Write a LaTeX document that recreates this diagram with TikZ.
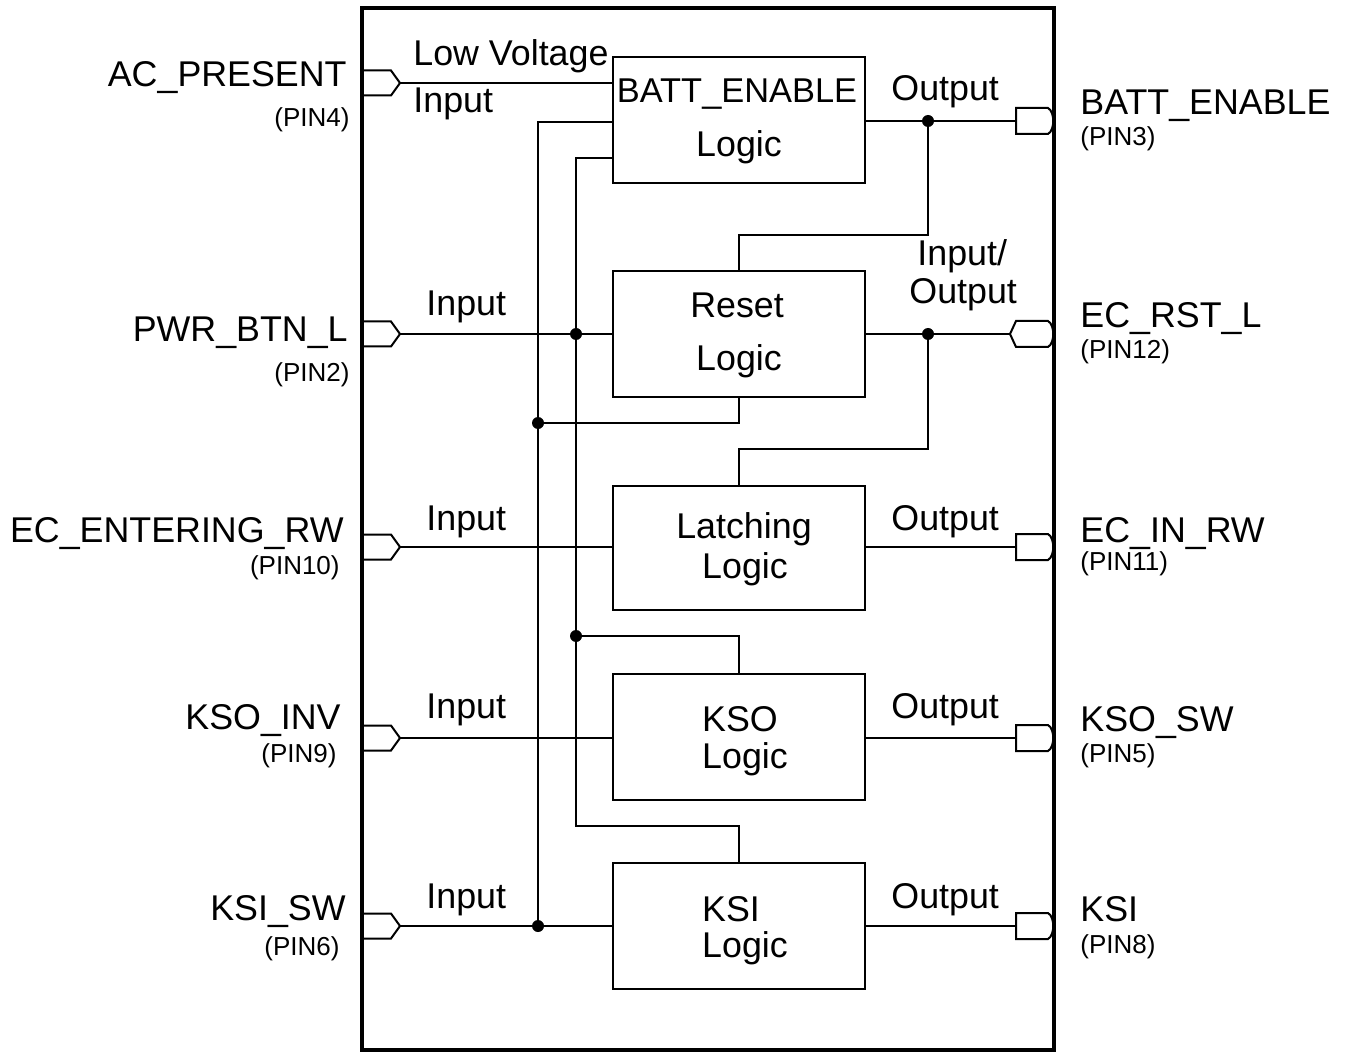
\documentclass[tikz,border=0pt]{standalone}
\usepackage{fontspec}
\setmainfont{Liberation Sans}
\begin{document}
\begin{tikzpicture}[x=0.5pt,y=-0.5pt,
  wire/.style={line width=1pt},
  block/.style={draw,line width=1pt,minimum width=126pt,minimum height=63pt,inner sep=0pt},
  big/.style={font=\fontsize{17.9}{20}\selectfont,inner sep=0pt},
  small/.style={font=\fontsize{13}{15}\selectfont,inner sep=0pt},
  dot/.style={circle,fill,inner sep=0pt,minimum size=6pt},
  pinshape/.style={line width=1pt,fill=white}]
\useasboundingbox (0,0) rectangle (1348,1053);

% logic blocks
\node[block] (batt)  at (739,120) {};
\node[block] (reset) at (739,334) {};
\node[block,minimum height=62pt] (latch) at (739,548) {};
\node[block] (kso)   at (739,737) {};
\node[block] (ksi)   at (739,926) {};

\node[big,font=\fontsize{17.2}{20}\selectfont,anchor=base] (tb1) at (737,103) {BATT\_ENABLE};
\node[big,anchor=base] (tb2) at (739,157) {Logic};
\node[big,anchor=base] (tr1) at (737,318) {Reset};
\node[big,anchor=base] (tr2) at (739,371) {Logic};
\node[big,anchor=base] (tl1) at (744,538) {Latching};
\node[big,anchor=base] (tl2) at (745,578) {Logic};
\node[big,anchor=base] (tk1) at (740,731) {KSO};
\node[big,anchor=base] (tk2) at (745,768) {Logic};
\node[big,anchor=base] (ti1) at (731,921) {KSI};
\node[big,anchor=base] (ti2) at (745,957) {Logic};

% pin coordinates
\coordinate (inAC)  at (400,83);
\coordinate (inPWR) at (400,334);
\coordinate (inECE) at (400,547);
\coordinate (inKSO) at (400,738);
\coordinate (inKSI) at (400,926);
\coordinate (outBE) at (1016,121);
\coordinate (outRST) at (1010,334);
\coordinate (outECIN) at (1016,547);
\coordinate (outKSOSW) at (1016,738);
\coordinate (outKSI) at (1016,926);

% input pin shapes
\foreach \y in {83,334,547,738,926}{
  \draw[pinshape] (362,\y-12.5) -- (391,\y-12.5) -- (400,\y) -- (391,\y+12.5) -- (362,\y+12.5);
}
% output pin shapes
\foreach \y in {121,547,738,926}{
  \draw[pinshape] (1016,\y-13) -- (1048,\y-13) .. controls (1055,\y-9) and (1055,\y+9) .. (1048,\y+13) -- (1016,\y+13) -- cycle;
}
% bidirectional pin
\draw[pinshape] (1010,334) -- (1016,321) -- (1048,321) .. controls (1055,325) and (1055,343) .. (1048,347) -- (1016,347) -- cycle;

% chip outline
\node[draw,line width=2pt,minimum width=346pt,minimum height=521pt,inner sep=0pt] (chip) at (708,529) {};

% junctions and bends
\coordinate (jB)  at (928,121);
\coordinate (bB)  at (928,235);
\coordinate (jR)  at (928,334);
\coordinate (bR)  at (928,449);
\coordinate (b1)  at (538,122);
\coordinate (jRb) at (538,423);
\coordinate (jKi) at (538,926);
\coordinate (a1)  at (576,158);
\coordinate (jP)  at (576,334);
\coordinate (jK)  at (576,636);
\coordinate (a2)  at (576,826);

% input wires
\draw[wire] (inAC) -- (inAC -| batt.west);
\draw[wire] (inPWR) -- (inPWR -| reset.west);
\draw[wire] (inECE) -- (inECE -| latch.west);
\draw[wire] (inKSO) -- (inKSO -| kso.west);
\draw[wire] (inKSI) -- (inKSI -| ksi.west);

% output wires
\draw[wire] (outBE -| batt.east) -- (outBE);
\draw[wire] (outRST -| reset.east) -- (outRST);
\draw[wire] (outECIN -| latch.east) -- (outECIN);
\draw[wire] (outKSOSW -| kso.east) -- (outKSOSW);
\draw[wire] (outKSI -| ksi.east) -- (outKSI);

% feedback wires
\draw[wire] (jB) -- (bB) -| (reset.north);
\draw[wire] (jR) -- (bR) -| (latch.north);
\draw[wire] (b1 -| batt.west) -- (b1) -- (jKi);
\draw[wire] (reset.south) |- (jRb);
\draw[wire] (a1 -| batt.west) -- (a1) -- (a2) -| (ksi.north);
\draw[wire] (jK) -| (kso.north);

\foreach \p in {jB,jR,jRb,jKi,jP,jK}{ \node[dot] at (\p) {}; }

% wire labels
\node[big,anchor=base west] (lv) at (413,66) {Low Voltage};
\node[big,anchor=base west] (li0) at (413,113) {Input};
\node[big,anchor=base west] (li1) at (426,316) {Input};
\node[big,anchor=base west] (li2) at (426,530) {Input};
\node[big,anchor=base west] (li3) at (426,718) {Input};
\node[big,anchor=base west] (li4) at (426,908) {Input};
\node[big,anchor=base west] (lo0) at (891,101) {Output};
\node[big,anchor=base west] (lio1) at (917,266) {Input/};
\node[big,anchor=base west] (lio2) at (909,304) {Output};
\node[big,anchor=base west] (lo2) at (891,530) {Output};
\node[big,anchor=base west] (lo3) at (891,718) {Output};
\node[big,anchor=base west] (lo4) at (891,908) {Output};

% left pin labels
\node[big,anchor=base east] (lAC) at (347,87) {AC\_PRESENT};
\node[small,anchor=base east] (pAC) at (350,127) {(PIN4)};
\node[big,anchor=base east] (lPWR) at (348,342) {PWR\_BTN\_L};
\node[small,anchor=base east] (pPWR) at (350,381) {(PIN2)};
\node[big,anchor=base east] (lECE) at (344,542) {EC\_ENTERING\_RW};
\node[small,anchor=base east] (pECE) at (340,574) {(PIN10)};
\node[big,anchor=base east] (lKSO) at (341,729) {KSO\_INV};
\node[small,anchor=base east] (pKSO) at (337,762) {(PIN9)};
\node[big,anchor=base east] (lKSI) at (346,920) {KSI\_SW};
\node[small,anchor=base east] (pKSI) at (340,955) {(PIN6)};

% right pin labels
\node[big,anchor=base west] (rBE) at (1080,115) {BATT\_ENABLE};
\node[small,anchor=base west] (qBE) at (1080,146) {(PIN3)};
\node[big,anchor=base west] (rRST) at (1080,328) {EC\_RST\_L};
\node[small,anchor=base west] (qRST) at (1080,358) {(PIN12)};
\node[big,anchor=base west] (rECIN) at (1080,542) {EC\_IN\_RW};
\node[small,anchor=base west] (qECIN) at (1080,570) {(PIN11)};
\node[big,anchor=base west] (rKSO) at (1080,731) {KSO\_SW};
\node[small,anchor=base west] (qKSO) at (1080,762) {(PIN5)};
\node[big,anchor=base west] (rKSI) at (1080,921) {KSI};
\node[small,anchor=base west] (qKSI) at (1080,953) {(PIN8)};
\end{tikzpicture}
\end{document}
